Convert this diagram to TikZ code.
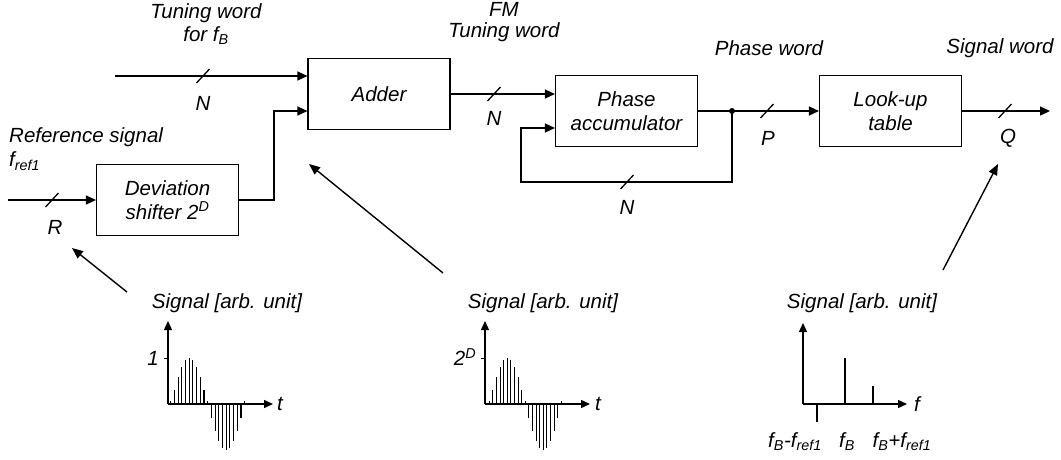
\documentclass[tikz,border=0pt]{standalone}
\usepackage{fontspec}
\setmainfont{Liberation Sans}
\usetikzlibrary{arrows.meta,calc}
\tikzset{
  blk/.style={draw, line width=1.1pt, minimum width=142pt, minimum height=71pt, inner sep=0pt, align=center, font=\lbl},
  conn/.style={line width=1.4pt},
  arr/.style={conn, -{Triangle[length=10pt,width=9pt]}},
  axarr/.style={line width=1.4pt, -{Triangle[length=9pt,width=8pt]}},
  ptr/.style={line width=1.4pt, -{Triangle[length=11pt,width=9pt]}},
  bar/.style={line width=1.1pt},
  txt/.style={inner sep=0pt, font=\lbl, align=center},
  busmark/.pic={\draw[line width=1.3pt] (-6.5,7) -- (6.5,-7);}
}
\newcommand\lbl{\fontsize{20.5}{23.5}\selectfont\itshape}
\begin{document}
\begin{tikzpicture}[x=1pt,y=-1pt]
\path[use as bounding box] (0,0) rectangle (1061,459);
% blocks
\node[blk] (adder) at (379,94) {Adder};
\node[blk] (dev) at (167.5,200) {Deviation\\shifter 2\textsuperscript{D}};
\node[blk] (pacc) at (626.5,111) {Phase\\accumulator};
\node[blk] (lut) at (890.5,111) {Look-up\\table};
% helper coordinates
\coordinate (inN) at (115,76);
\coordinate (refin) at (8,200);
\coordinate (jog) at (274,111);
\coordinate (dot) at (732,111);
\coordinate (fbl) at (521,182);
\coordinate (fbin) at (556,128);
\coordinate (out) at (1050,111);
% connectors
\draw[arr] (inN) -- (inN -| adder.west);
\draw[arr] (refin) -- (refin -| dev.west);
\draw[arr] (dev.east) -| (jog) -- (jog -| adder.west);
\draw[arr] (adder.east) -- (adder.east -| pacc.west);
\draw[conn] (pacc.east) -- (dot);
\draw[arr] (dot) -- (lut.west);
\draw[arr] (dot) |- (fbl) |- (fbin -| pacc.west);
\draw[arr] (lut.east) -- (out);
\fill (dot) circle (3pt);
% bus marks
\pic at (203,76) {busmark};
\pic at (52,200) {busmark};
\pic at (494,94) {busmark};
\pic at (627,182) {busmark};
\pic at (767,111) {busmark};
\pic at (1005,111) {busmark};
% labels
\node[txt] (lN1) at (203,103) {N};
\node[txt] (lR) at (55,227) {R};
\node[txt] (lN2) at (494,118) {N};
\node[txt] (lN3) at (627,207) {N};
\node[txt] (lP) at (768,138) {P};
\node[txt] (lQ) at (1008,138) {Q};
\node[txt] (ltw) at (206,24) {Tuning word\\[0pt]for f\textsubscript{B}};
\node[txt] (lfm) at (504,22) {FM\\[-3pt]Tuning word};
\node[txt, anchor=west, align=left] (lref) at (9,149) {Reference signal\\[1pt]f\textsubscript{ref1}};
\node[txt] (lpw) at (769,48) {Phase word};
\node[txt] (lsw) at (1000,48) {Signal word};
% plot 1
\coordinate (o1) at (168,404);
\draw[axarr] (o1) -- (168,321);
\draw[axarr] (o1) -- (273,404);
\draw[line width=1pt] (164,358) -- (168,358);
\node[txt] (one) at (153,358) {1};
\node[txt] (t1) at (280,404) {t};
\node[txt] (s1) at (227,303) {Signal [arb. unit]};
\foreach \k in {0,...,20} {
  \pgfmathsetmacro\hh{46*sin(18*\k)}
  \pgfmathsetmacro\hb{abs(\hh)<1 ? 3 : \hh}
  \draw[bar] (170.7+3.7*\k,404) -- ++(0,-\hb);
}
% plot 2
\coordinate (o2) at (485,404);
\draw[axarr] (o2) -- (485,321);
\draw[axarr] (o2) -- (590,404);
\draw[line width=1pt] (481,358) -- (485,358);
\node[txt] (twoD) at (465,357) {2\textsuperscript{D}};
\node[txt] (t2) at (598,404) {t};
\node[txt] (s2) at (543,303) {Signal [arb. unit]};
\foreach \k in {0,...,20} {
  \pgfmathsetmacro\hh{46*sin(18*\k)}
  \pgfmathsetmacro\hb{abs(\hh)<1 ? 3 : \hh}
  \draw[bar] (489.3+3.6*\k,404) -- ++(0,-\hb);
}
% plot 3
\coordinate (o3) at (803,404);
\draw[axarr] (o3) -- (803,323);
\draw[axarr] (o3) -- (907,404);
\draw[line width=1.2pt] (817,404) -- (817,422);
\draw[line width=1.2pt] (845,404) -- (845,358);
\draw[line width=1.2pt] (873,404) -- (873,386);
\node[txt] (f3) at (917,404) {f};
\node[txt] (s3) at (862,303) {Signal [arb. unit]};
\node[txt] (fa) at (795,442) {f\textsubscript{B}-f\textsubscript{ref1}};
\node[txt] (fb) at (847,442) {f\textsubscript{B}};
\node[txt] (fc) at (902,442) {f\textsubscript{B}+f\textsubscript{ref1}};
% pointer arrows
\coordinate (p1s) at (127,292);
\coordinate (p1e) at (72,248);
\coordinate (p2s) at (443,273);
\coordinate (p2e) at (309,164);
\coordinate (p3s) at (943,270);
\coordinate (p3e) at (998,164);
\draw[ptr] (p1s) -- (p1e);
\draw[ptr] (p2s) -- (p2e);
\draw[ptr] (p3s) -- (p3e);
\end{tikzpicture}
\end{document}
